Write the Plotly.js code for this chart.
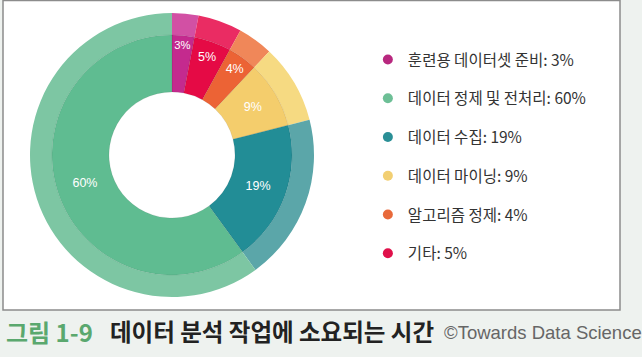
<!DOCTYPE html>
<html>
<head>
<meta charset="utf-8">
<script src="https://cdn.plot.ly/plotly-3.0.1.min.js"></script>
<style>html,body{margin:0;padding:0;background:#eef2ef;}#chart{width:642px;height:357px;}</style>
</head>
<body>
<div id="chart"></div>
<script>
// Data (legend order)
var categories = ['훈련용 데이터셋 준비', '데이터 정제 및 전처리', '데이터 수집', '데이터 마이닝', '알고리즘 정제', '기타'];
var values = [3, 60, 19, 9, 4, 5];
var innerColors = ['#c42a8e', '#5fbc91', '#228d96', '#f4cd6c', '#ec6335', '#e50a45'];
var outerColors = ['#d250a4', '#7dc6a3', '#5ba6a9', '#f6da82', '#f08759', '#ea2c63'];
var legendColors = ['#b8287f', '#6dbf96', '#2a8f96', '#f2cf72', '#e8693a', '#e0104a'];
// clockwise order of slices starting at 12 o'clock
var pieOrder = [0, 5, 4, 3, 2, 1];

var pick = function (arr) { return pieOrder.map(function (i) { return arr[i]; }); };

var W = 642, H = 357;
var cx = 172, cy = 155;
function dom(r) {
  return { x: [(cx - r) / W, (cx + r) / W], y: [1 - (cy + r) / H, 1 - (cy - r) / H] };
}

var outer = {
  type: 'pie', labels: pick(categories), values: pick(values), sort: false,
  direction: 'clockwise', rotation: 0, hole: 120 / 142, domain: dom(142),
  marker: { colors: pick(outerColors), line: { width: 0 } },
  textinfo: 'none', hoverinfo: 'skip', showlegend: false
};
var inner = {
  type: 'pie', labels: pick(categories), values: pick(values), sort: false,
  direction: 'clockwise', rotation: 0, hole: 63 / 120, domain: dom(120),
  marker: { colors: pick(innerColors), line: { width: 0.6, color: 'rgba(0,0,0,0.12)' } },
  texttemplate: '%{value}%', textposition: 'inside', insidetextorientation: 'horizontal',
  textfont: { color: '#ffffff', size: 12.5, family: 'Liberation Sans, Arial, sans-serif' },
  hoverinfo: 'label+value', showlegend: false
};

var traces = [outer, inner];
categories.forEach(function (c, i) {
  traces.push({
    type: 'scatter', mode: 'markers', x: [null], y: [null],
    name: c + ': ' + values[i] + '%', legendgroup: 'g' + i,
    marker: { color: legendColors[i], size: 10, symbol: 'circle' },
    hoverinfo: 'skip'
  });
});

var layout = {
  width: W, height: H,
  margin: { l: 0, r: 0, t: 0, b: 0 },
  paper_bgcolor: '#eef2ef', plot_bgcolor: 'rgba(0,0,0,0)',
  xaxis: { visible: false }, yaxis: { visible: false },
  showlegend: true,
  legend: {
    x: 0.573, xanchor: 'left', y: 1 - 43 / H, yanchor: 'top',
    bgcolor: 'rgba(0,0,0,0)', tracegroupgap: 15.6,
    font: { family: 'Noto Sans CJK KR, sans-serif', size: 15.5, color: '#333333' }
  },
  shapes: [{
    type: 'rect', xref: 'paper', yref: 'paper', layer: 'below',
    x0: 3 / W, x1: 620 / W, y0: 1 - 310 / H, y1: 1 - 0.5 / H,
    fillcolor: '#ffffff', line: { color: '#8c8c8c', width: 1.5 }
  }],
  annotations: [
    { xref: 'paper', yref: 'paper', x: 4 / W, y: 1 - 331 / H, xanchor: 'left', yanchor: 'middle', showarrow: false,
      text: '<b>그림 1-9</b>', font: { family: 'Noto Sans CJK KR, sans-serif', size: 24, color: '#5aa86e' } },
    { xref: 'paper', yref: 'paper', x: 108 / W, y: 1 - 331 / H, xanchor: 'left', yanchor: 'middle', showarrow: false,
      text: '<b>데이터 분석 작업에 소요되는 시간</b>', font: { family: 'Noto Sans CJK KR, sans-serif', size: 23.5, color: '#222222' } },
    { xref: 'paper', yref: 'paper', x: 442 / W, y: 1 - 332 / H, xanchor: 'left', yanchor: 'middle', showarrow: false,
      text: '©Towards Data Science', font: { family: 'Liberation Sans, Arial, sans-serif', size: 18.5, color: '#666666' } }
  ]
};

Plotly.newPlot('chart', traces, layout, { displayModeBar: false, staticPlot: true });
</script>
</body>
</html>
